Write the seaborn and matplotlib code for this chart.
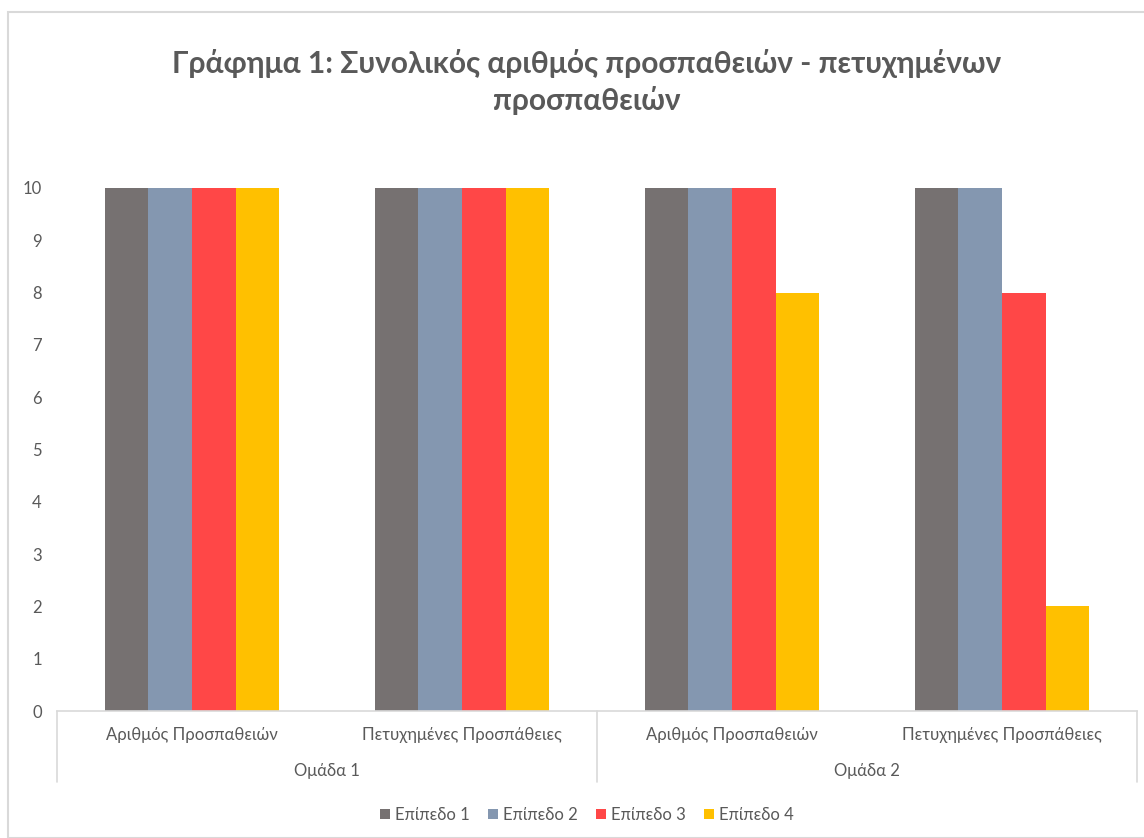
import matplotlib
matplotlib.use("Agg")
import matplotlib.pyplot as plt
import matplotlib.transforms as mtransforms
from matplotlib.patches import Rectangle, Patch
import seaborn as sns
import pandas as pd

# ---- data ----
groups = ["Ομάδα 1", "Ομάδα 1", "Ομάδα 2", "Ομάδα 2"]
categories = ["Αριθμός Προσπαθειών", "Πετυχημένες Προσπάθειες",
              "Αριθμός Προσπαθειών", "Πετυχημένες Προσπάθειες"]
series = ["Επίπεδο 1", "Επίπεδο 2", "Επίπεδο 3", "Επίπεδο 4"]
level1 = [10, 10, 10, 10]
level2 = [10, 10, 10, 10]
level3 = [10, 10, 10, 8]
level4 = [10, 10, 8, 2]
colors = ["#767171", "#8497B0", "#FF4747", "#FFC000"]
title = "Γράφημα 1: Συνολικός αριθμός προσπαθειών - πετυχημένων\nπροσπαθειών"

keys = [f"{g}|{c}" for g, c in zip(groups, categories)]
rows = []
for s, vals in zip(series, [level1, level2, level3, level4]):
    for k, v in zip(keys, vals):
        rows.append({"key": k, "series": s, "value": v})
df = pd.DataFrame(rows)

sns.set_theme(style="white")
plt.rcParams["font.family"] = ["Lato", "DejaVu Sans"]
text_color = "#595959"
line_color = "#D9D9D9"

fig = plt.figure(figsize=(11.44, 8.38), dpi=100)
ax = fig.add_axes([57 / 1144, 1 - 711 / 838, 1080 / 1144, 523 / 838])

sns.barplot(data=df, x="key", y="value", hue="series", order=keys,
            hue_order=series, palette=colors, width=0.645, saturation=1,
            ax=ax, legend=False, edgecolor="none", linewidth=0)

ax.set_ylim(0, 10)
ax.set_xlim(-0.5, 3.5)
ax.set_yticks(range(0, 11))
ax.set_yticklabels([str(i) for i in range(0, 11)], color=text_color, fontsize=12)
ax.tick_params(axis="y", length=0, pad=11)
ax.set_xticks([])
ax.set_xlabel("")
ax.set_ylabel("")
for sp in ["left", "right", "top"]:
    ax.spines[sp].set_visible(False)
ax.spines["bottom"].set_color(line_color)
ax.spines["bottom"].set_linewidth(1.2)

# hierarchical category axis
trans = mtransforms.blended_transform_factory(ax.transData, ax.transAxes)
px = 1 / 523
for i, c in enumerate(categories):
    ax.text(i, -24 * px, c, transform=trans, ha="center", va="center",
            color=text_color, fontsize=12)
uniq = []
for g in groups:
    if g not in uniq:
        uniq.append(g)
for gi, g in enumerate(uniq):
    idx = [i for i, gg in enumerate(groups) if gg == g]
    ax.text((idx[0] + idx[-1]) / 2, -60 * px, g, transform=trans,
            ha="center", va="center", color=text_color, fontsize=12)
for xs in [-0.5, 1.5, 3.5]:
    ax.plot([xs, xs], [0, -71 * px], transform=trans, color=line_color,
            lw=1.2, clip_on=False)

# title
fig.text(587 / 1144, 1 - 82 / 838, title, ha="center", va="center", fontsize=21.5,
         fontweight="bold", color=text_color, linespacing=1.35)

# legend
handles = [Patch(facecolor=c, edgecolor="none", label=s) for c, s in zip(colors, series)]
fig.legend(handles=handles, loc="center", bbox_to_anchor=(587 / 1144, 1 - 815 / 838),
           ncol=4, frameon=False, fontsize=12, handlelength=0.6, handleheight=0.6,
           handletextpad=0.3, columnspacing=1.1, labelcolor=text_color)

# chart border
fig.patches.append(Rectangle((8 / 1144, 0), 1.2, 1 - 12 / 838, transform=fig.transFigure,
                             fill=False, edgecolor=line_color, lw=1.5))

fig.savefig("out.png", dpi=100, facecolor="white")
